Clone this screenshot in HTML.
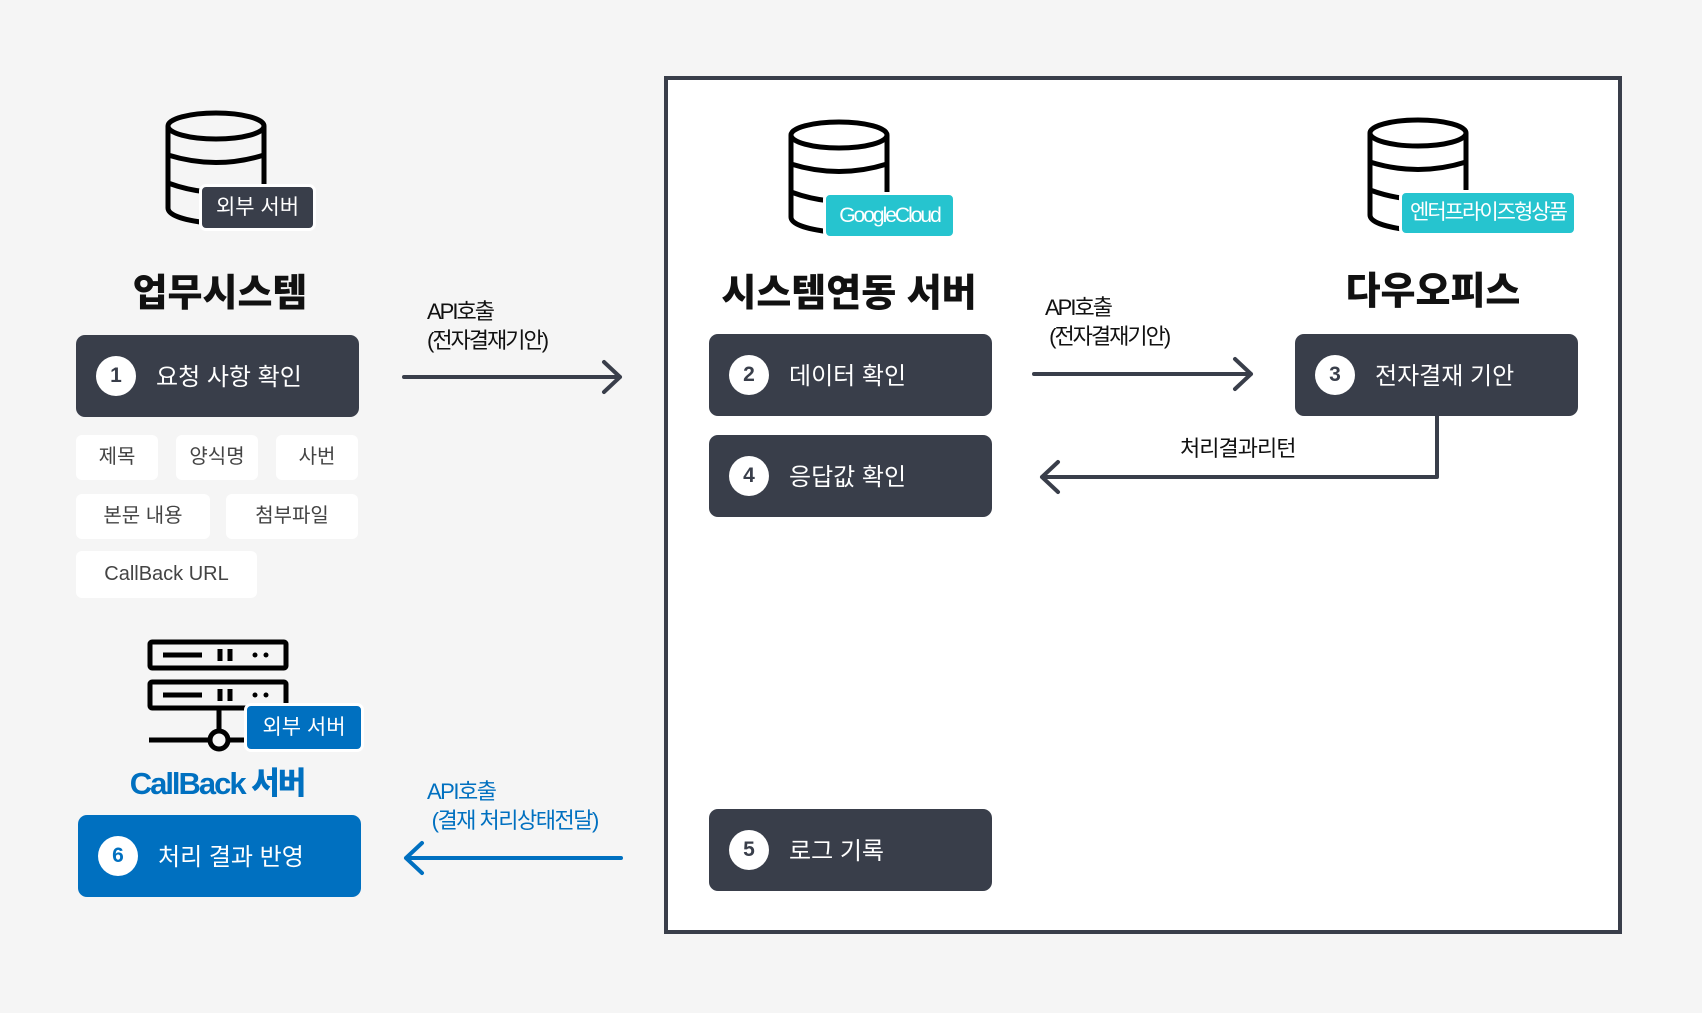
<!DOCTYPE html>
<html><head><meta charset="utf-8"><style>
body{margin:0;width:1702px;height:1013px;background:#f5f5f5;position:relative;overflow:hidden;font-family:"Liberation Sans","Noto Sans CJK KR",sans-serif;}
.a{position:absolute;}
.box{position:absolute;left:664px;top:76px;width:950px;height:850px;border:4px solid #393e4a;background:#fff;}
.node{position:absolute;width:283px;height:82px;background:#393e4a;border-radius:9px;color:#fff;font-size:24px;}
.node .c{position:absolute;left:20px;top:21px;width:40px;height:40px;border-radius:50%;background:#fff;color:#393e4a;font-weight:bold;font-size:21px;text-align:center;line-height:40px;font-family:"Liberation Sans",sans-serif;}
.node .t{position:absolute;left:80px;top:2px;line-height:82px;white-space:nowrap;}
.chip{position:absolute;height:45px;background:#fff;border-radius:6px;color:#444;font-size:20px;text-align:center;line-height:45px;}
.title{position:absolute;font-size:38px;font-weight:900;color:#111;text-align:center;white-space:nowrap;transform:translateX(-50%);}
.lbl{position:absolute;color:#fff;font-size:21px;border-radius:7px;text-align:center;white-space:nowrap;border:3px solid #fff;box-sizing:border-box;}
.cap{position:absolute;font-size:22px;color:#111;line-height:29px;letter-spacing:-2px;white-space:nowrap;}
</style></head><body>
<div class="box"></div>

<svg class="a" style="left:0;top:0" width="1702" height="1013">
<g fill="none" stroke="#000" stroke-width="5">
 <g transform="translate(167,110)">
  <ellipse cx="49" cy="16" rx="48" ry="13"/>
  <path d="M1 16 V98 Q1 108 40 113 M97 16 V75"/>
  <path d="M1 45 Q49 60 97 45"/>
  <path d="M1 73 Q20 80 40 82"/>
 </g>
 <g transform="translate(790,119)">
  <ellipse cx="49" cy="16" rx="48" ry="13"/>
  <path d="M1 16 V98 Q1 108 40 113 M97 16 V75"/>
  <path d="M1 45 Q49 60 97 45"/>
  <path d="M1 73 Q20 80 40 82"/>
 </g>
 <g transform="translate(1369,117)">
  <ellipse cx="49" cy="16" rx="48" ry="13"/>
  <path d="M1 16 V98 Q1 108 40 113 M97 16 V75"/>
  <path d="M1 45 Q49 60 97 45"/>
  <path d="M1 73 Q20 80 40 82"/>
 </g>
 <rect x="150" y="642" width="136" height="26" rx="2"/>
 <rect x="150" y="682" width="136" height="26" rx="2"/>
 <path d="M163 655 H202 M163 695 H202 M220 649 V661 M230 649 V661 M220 689 V701 M230 689 V701"/>
 <path d="M219 708 V731 M149 740 H209 M229 740 H288"/>
 <circle cx="219" cy="740" r="9"/>
</g>
<g fill="#000"><circle cx="255" cy="655" r="2.5"/><circle cx="266" cy="655" r="2.5"/><circle cx="255" cy="695" r="2.5"/><circle cx="266" cy="695" r="2.5"/></g>
<g fill="none" stroke="#393e4a" stroke-width="4" stroke-linecap="round" stroke-linejoin="round">
 <path d="M404 377 H620 M604 362 L620 377 L604 392"/>
 <path d="M1034 374 H1251 M1235 359 L1251 374 L1235 389"/>
 <path d="M1437 416 V477 H1042 M1058 462 L1042 477 L1058 492"/>
</g>
<g fill="none" stroke="#0070c0" stroke-width="4" stroke-linecap="round" stroke-linejoin="round">
 <path d="M621 858 H406 M422 843 L406 858 L422 873"/>
</g>
</svg>

<div class="lbl" style="left:199px;top:184px;width:117px;height:47px;line-height:41px;background:#393e4a;">외부 서버</div>
<div class="lbl" style="left:823px;top:192px;width:133px;height:47px;line-height:41px;background:#26c4cf;letter-spacing:-2px;">GoogleCloud</div>
<div class="lbl" style="left:1399px;top:190px;width:178px;height:46px;line-height:40px;background:#26c4cf;letter-spacing:-2px;">엔터프라이즈형상품</div>
<div class="lbl" style="left:244px;top:703px;width:120px;height:49px;line-height:43px;background:#0070c0;">외부 서버</div>

<div class="title" style="left:220px;top:262px;">업무시스템</div>
<div class="title" style="left:849px;top:262px;">시스템연동 서버</div>
<div class="title" style="left:1433px;top:260px;">다우오피스</div>
<div class="title" style="left:217px;top:758px;font-size:31px;color:#0070c0;letter-spacing:-2px;">CallBack 서버</div>

<div class="node" style="left:76px;top:335px;"><div class="c">1</div><div class="t">요청 사항 확인</div></div>
<div class="node" style="left:709px;top:334px;"><div class="c">2</div><div class="t">데이터 확인</div></div>
<div class="node" style="left:1295px;top:334px;"><div class="c">3</div><div class="t">전자결재 기안</div></div>
<div class="node" style="left:709px;top:435px;"><div class="c">4</div><div class="t">응답값 확인</div></div>
<div class="node" style="left:709px;top:809px;"><div class="c">5</div><div class="t">로그 기록</div></div>
<div class="node" style="left:78px;top:815px;background:#0070c0;"><div class="c" style="color:#0070c0">6</div><div class="t">처리 결과 반영</div></div>

<div class="chip" style="left:76px;top:435px;width:82px;">제목</div>
<div class="chip" style="left:176px;top:435px;width:82px;">양식명</div>
<div class="chip" style="left:276px;top:435px;width:82px;">사번</div>
<div class="chip" style="left:76px;top:494px;width:134px;">본문 내용</div>
<div class="chip" style="left:226px;top:494px;width:132px;">첨부파일</div>
<div class="chip" style="left:76px;top:551px;width:181px;height:47px;line-height:47px;">CallBack URL</div>

<div class="cap" style="left:427px;top:297px;">API호출<br>(전자결재기안)</div>
<div class="cap" style="left:1045px;top:293px;">API호출<br>&nbsp;(전자결재기안)</div>
<div class="cap" style="left:1180px;top:434px;letter-spacing:-1px;">처리결과리턴</div>
<div class="cap" style="left:427px;top:777px;color:#0070c0;letter-spacing:-1.5px;">API호출<br>&nbsp;(결재 처리상태전달)</div>
</body></html>
